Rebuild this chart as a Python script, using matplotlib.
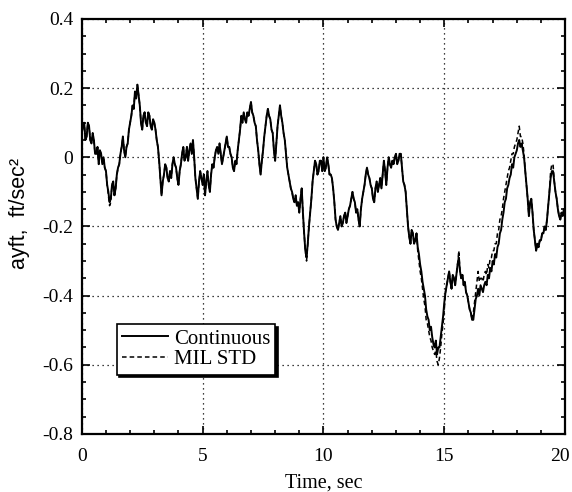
import numpy as np
import matplotlib
matplotlib.use('Agg')
import matplotlib.pyplot as plt
from matplotlib.ticker import MultipleLocator
from matplotlib.transforms import ScaledTranslation

# time axis, 0.05 sec steps
time = np.linspace(0, 20, 401)

# ayft, one row per second
continuous = [
    0.07, 0.09, 0.10, 0.05, 0.06, 0.10, 0.09, 0.05, 0.04, 0.07, 0.05, 0.01, 0.01, 0.03, -0.02, 0.02, 0.01, -0.02, 0.00, -0.03,
    -0.04, -0.08, -0.10, -0.13, -0.12, -0.08, -0.07, -0.11, -0.09, -0.05, -0.03, -0.02, 0.01, 0.03, 0.06, 0.02, 0.00, 0.03, 0.04, 0.08,
    0.10, 0.12, 0.15, 0.14, 0.19, 0.17, 0.21, 0.18, 0.15, 0.10, 0.08, 0.12, 0.13, 0.10, 0.09, 0.13, 0.12, 0.09, 0.08, 0.11,
    0.10, 0.08, 0.05, 0.03, -0.01, -0.06, -0.11, -0.07, -0.05, -0.02, -0.03, -0.06, -0.07, -0.04, -0.06, -0.02, 0.00, -0.02, -0.03, -0.06,
    -0.08, -0.04, -0.02, 0.01, 0.03, -0.01, 0.00, 0.03, -0.01, 0.02, 0.04, 0.01, 0.05, 0.00, -0.06, -0.09, -0.12, -0.07, -0.04, -0.06,
    -0.08, -0.05, -0.11, -0.07, -0.04, -0.08, -0.10, -0.05, -0.02, -0.03, 0.00, 0.02, 0.03, 0.01, 0.04, 0.01, -0.02, 0.00, 0.02, 0.04,
    0.06, 0.03, 0.03, 0.01, 0.00, -0.03, -0.04, -0.01, -0.02, 0.02, 0.05, 0.08, 0.12, 0.10, 0.13, 0.11, 0.10, 0.13, 0.12, 0.14,
    0.16, 0.13, 0.12, 0.10, 0.09, 0.05, 0.02, -0.02, -0.05, -0.01, 0.02, 0.06, 0.09, 0.12, 0.14, 0.12, 0.11, 0.08, 0.07, 0.02,
    -0.01, 0.04, 0.09, 0.12, 0.15, 0.12, 0.10, 0.07, 0.05, 0.01, -0.03, -0.05, -0.07, -0.09, -0.10, -0.12, -0.13, -0.11, -0.14, -0.13,
    -0.16, -0.12, -0.09, -0.16, -0.22, -0.27, -0.29, -0.25, -0.20, -0.16, -0.12, -0.07, -0.04, -0.01, -0.02, -0.05, -0.04, -0.01, -0.01, -0.04,
    0.00, -0.04, -0.03, 0.00, -0.02, -0.05, -0.05, -0.06, -0.09, -0.13, -0.18, -0.20, -0.21, -0.19, -0.17, -0.20, -0.19, -0.17, -0.16, -0.19,
    -0.17, -0.15, -0.14, -0.12, -0.10, -0.12, -0.13, -0.16, -0.15, -0.18, -0.20, -0.15, -0.12, -0.10, -0.08, -0.05, -0.03, -0.05, -0.06, -0.08,
    -0.09, -0.12, -0.13, -0.09, -0.07, -0.10, -0.08, -0.06, -0.09, -0.05, -0.01, -0.04, -0.08, -0.03, 0.00, -0.02, -0.03, -0.01, -0.02, 0.00,
    0.01, -0.02, -0.01, 0.01, 0.01, -0.03, -0.07, -0.08, -0.10, -0.15, -0.20, -0.23, -0.25, -0.21, -0.22, -0.25, -0.24, -0.22, -0.26, -0.28,
    -0.31, -0.33, -0.36, -0.38, -0.40, -0.44, -0.46, -0.47, -0.50, -0.49, -0.52, -0.54, -0.55, -0.53, -0.57, -0.55, -0.55, -0.52, -0.49, -0.46,
    -0.42, -0.39, -0.37, -0.35, -0.33, -0.36, -0.38, -0.34, -0.35, -0.37, -0.34, -0.31, -0.29, -0.33, -0.35, -0.34, -0.37, -0.36, -0.39, -0.40,
    -0.42, -0.44, -0.45, -0.47, -0.47, -0.44, -0.41, -0.40, -0.38, -0.40, -0.37, -0.38, -0.39, -0.37, -0.36, -0.37, -0.34, -0.35, -0.32, -0.33,
    -0.30, -0.31, -0.28, -0.29, -0.26, -0.25, -0.22, -0.21, -0.18, -0.16, -0.13, -0.12, -0.09, -0.08, -0.06, -0.05, -0.02, -0.03, 0.00, 0.01,
    0.02, 0.04, 0.05, 0.03, 0.04, 0.02, 0.00, -0.04, -0.08, -0.12, -0.17, -0.13, -0.12, -0.16, -0.21, -0.24, -0.27, -0.25, -0.26, -0.24,
    -0.24, -0.22, -0.22, -0.20, -0.21, -0.18, -0.14, -0.10, -0.06, -0.04, -0.04, -0.07, -0.10, -0.12, -0.15, -0.17, -0.18, -0.16, -0.17, -0.15,
    -0.16,
]

mil_std = [
    0.07, 0.09, 0.10, 0.05, 0.06, 0.10, 0.09, 0.05, 0.04, 0.07, 0.05, 0.01, 0.01, 0.03, -0.02, 0.02, 0.01, -0.02, 0.00, -0.03,
    -0.04, -0.08, -0.11, -0.14, -0.13, -0.08, -0.07, -0.11, -0.09, -0.05, -0.03, -0.02, 0.01, 0.03, 0.06, 0.02, 0.00, 0.03, 0.04, 0.08,
    0.10, 0.12, 0.15, 0.14, 0.19, 0.17, 0.21, 0.18, 0.15, 0.10, 0.08, 0.12, 0.13, 0.10, 0.09, 0.13, 0.12, 0.09, 0.08, 0.11,
    0.10, 0.08, 0.05, 0.03, -0.01, -0.06, -0.11, -0.07, -0.05, -0.02, -0.03, -0.06, -0.07, -0.04, -0.06, -0.02, 0.00, -0.02, -0.03, -0.06,
    -0.08, -0.04, -0.02, 0.01, 0.03, -0.01, 0.00, 0.03, -0.01, 0.02, 0.04, 0.01, 0.05, 0.00, -0.06, -0.09, -0.12, -0.07, -0.04, -0.06,
    -0.08, -0.05, -0.11, -0.07, -0.04, -0.08, -0.10, -0.05, -0.02, -0.03, 0.00, 0.02, 0.03, 0.01, 0.04, 0.01, -0.02, 0.00, 0.02, 0.04,
    0.06, 0.03, 0.03, 0.01, 0.00, -0.03, -0.04, -0.01, -0.02, 0.02, 0.05, 0.08, 0.12, 0.10, 0.13, 0.11, 0.10, 0.13, 0.12, 0.14,
    0.16, 0.13, 0.12, 0.10, 0.09, 0.05, 0.02, -0.02, -0.05, -0.01, 0.02, 0.06, 0.09, 0.12, 0.14, 0.12, 0.11, 0.08, 0.07, 0.02,
    -0.01, 0.04, 0.09, 0.12, 0.15, 0.12, 0.10, 0.07, 0.05, 0.01, -0.03, -0.05, -0.07, -0.09, -0.10, -0.12, -0.13, -0.11, -0.14, -0.13,
    -0.16, -0.12, -0.09, -0.16, -0.22, -0.27, -0.30, -0.25, -0.20, -0.16, -0.12, -0.07, -0.04, -0.01, -0.02, -0.05, -0.04, -0.01, -0.01, -0.04,
    0.00, -0.04, -0.03, 0.00, -0.02, -0.05, -0.05, -0.06, -0.09, -0.13, -0.18, -0.20, -0.21, -0.19, -0.17, -0.20, -0.19, -0.17, -0.16, -0.19,
    -0.17, -0.15, -0.14, -0.12, -0.10, -0.12, -0.13, -0.16, -0.15, -0.18, -0.20, -0.15, -0.12, -0.10, -0.08, -0.05, -0.03, -0.05, -0.06, -0.08,
    -0.09, -0.12, -0.13, -0.09, -0.07, -0.10, -0.08, -0.06, -0.09, -0.05, -0.01, -0.04, -0.08, -0.03, 0.00, -0.02, -0.03, -0.01, -0.02, 0.00,
    0.01, -0.02, -0.01, 0.01, 0.01, -0.03, -0.07, -0.08, -0.10, -0.15, -0.20, -0.23, -0.25, -0.21, -0.22, -0.25, -0.24, -0.22, -0.27, -0.30,
    -0.33, -0.35, -0.38, -0.41, -0.43, -0.47, -0.48, -0.50, -0.52, -0.53, -0.55, -0.56, -0.57, -0.56, -0.59, -0.60, -0.58, -0.55, -0.51, -0.48,
    -0.44, -0.39, -0.37, -0.35, -0.33, -0.36, -0.38, -0.34, -0.35, -0.37, -0.34, -0.31, -0.27, -0.33, -0.35, -0.34, -0.37, -0.36, -0.39, -0.40,
    -0.42, -0.44, -0.45, -0.47, -0.45, -0.42, -0.39, -0.36, -0.33, -0.36, -0.35, -0.35, -0.36, -0.34, -0.33, -0.34, -0.31, -0.32, -0.29, -0.29,
    -0.27, -0.27, -0.25, -0.25, -0.22, -0.21, -0.18, -0.17, -0.15, -0.12, -0.10, -0.08, -0.06, -0.04, -0.03, -0.01, 0.01, 0.01, 0.03, 0.04,
    0.05, 0.07, 0.09, 0.06, 0.06, 0.04, 0.01, -0.04, -0.08, -0.12, -0.17, -0.13, -0.12, -0.16, -0.21, -0.24, -0.27, -0.25, -0.26, -0.24,
    -0.24, -0.22, -0.22, -0.20, -0.21, -0.18, -0.14, -0.10, -0.04, -0.02, -0.02, -0.07, -0.10, -0.12, -0.15, -0.17, -0.18, -0.16, -0.17, -0.15,
    -0.16,
]

xticks = [0, 5, 10, 15, 20]
yticks = [-0.8, -0.6, -0.4, -0.2, 0, 0.2, 0.4]
yticklabels = ['-0.8', '-0.6', '-0.4', '-0.2', '0', '0.2', '0.4']

plt.rcParams['font.family'] = 'Liberation Serif'
plt.rcParams['font.size'] = 14

fig = plt.figure(figsize=(5.72, 4.92), dpi=100)
ax = fig.add_axes([0.143, 0.118, 0.845, 0.8435])

ax.plot(time, mil_std, color='black', lw=1.1, ls=(0, (3, 2)), label='MIL STD')
ax.plot(time, continuous, color='black', lw=1.4, label='Continuous')

ax.set_xlim(0, 20)
ax.set_ylim(-0.8, 0.4)
ax.set_xticks(xticks)
ax.set_yticks(yticks)
ax.set_yticklabels(yticklabels)
ax.xaxis.set_minor_locator(MultipleLocator(1))
ax.yaxis.set_minor_locator(MultipleLocator(0.05))
ax.tick_params(which='both', direction='in', top=True, right=True, width=1.2)
ax.tick_params(which='major', length=6)
ax.tick_params(which='minor', length=3)
ax.tick_params(axis='x', pad=10)
ax.tick_params(axis='y', pad=6)
for s in ax.spines.values():
    s.set_linewidth(1.6)
ax.grid(True, which='major', color='black', ls=(0, (1, 3)), lw=0.9)

# last x label sits a little left so it stays inside the figure
lab = ax.get_xticklabels()[-1]
lab.set_transform(lab.get_transform() + ScaledTranslation(-4 / 72, 0, fig.dpi_scale_trans))

ax.set_xlabel('Time, sec', fontsize=14.5, labelpad=6)
ax.set_ylabel('ayft,  ft/sec\u00b2', family='Liberation Sans', fontsize=15.5, labelpad=9)
ax.yaxis.label.set_y(0.53)

# legend order as in the reference: solid first
h, l = ax.get_legend_handles_labels()
leg = ax.legend(h[::-1], l[::-1], loc='upper left', bbox_to_anchor=(0.072, 0.265), frameon=True,
                fancybox=False, shadow={'color': 'black', 'alpha': 1},
                handlelength=2.2, handletextpad=0.3, borderpad=0.25,
                labelspacing=0.05, borderaxespad=0, fontsize=15)
leg.get_frame().set_edgecolor('black')
leg.get_frame().set_linewidth(1.2)
leg.get_frame().set_alpha(1)

fig.savefig('out.png', dpi=100)
